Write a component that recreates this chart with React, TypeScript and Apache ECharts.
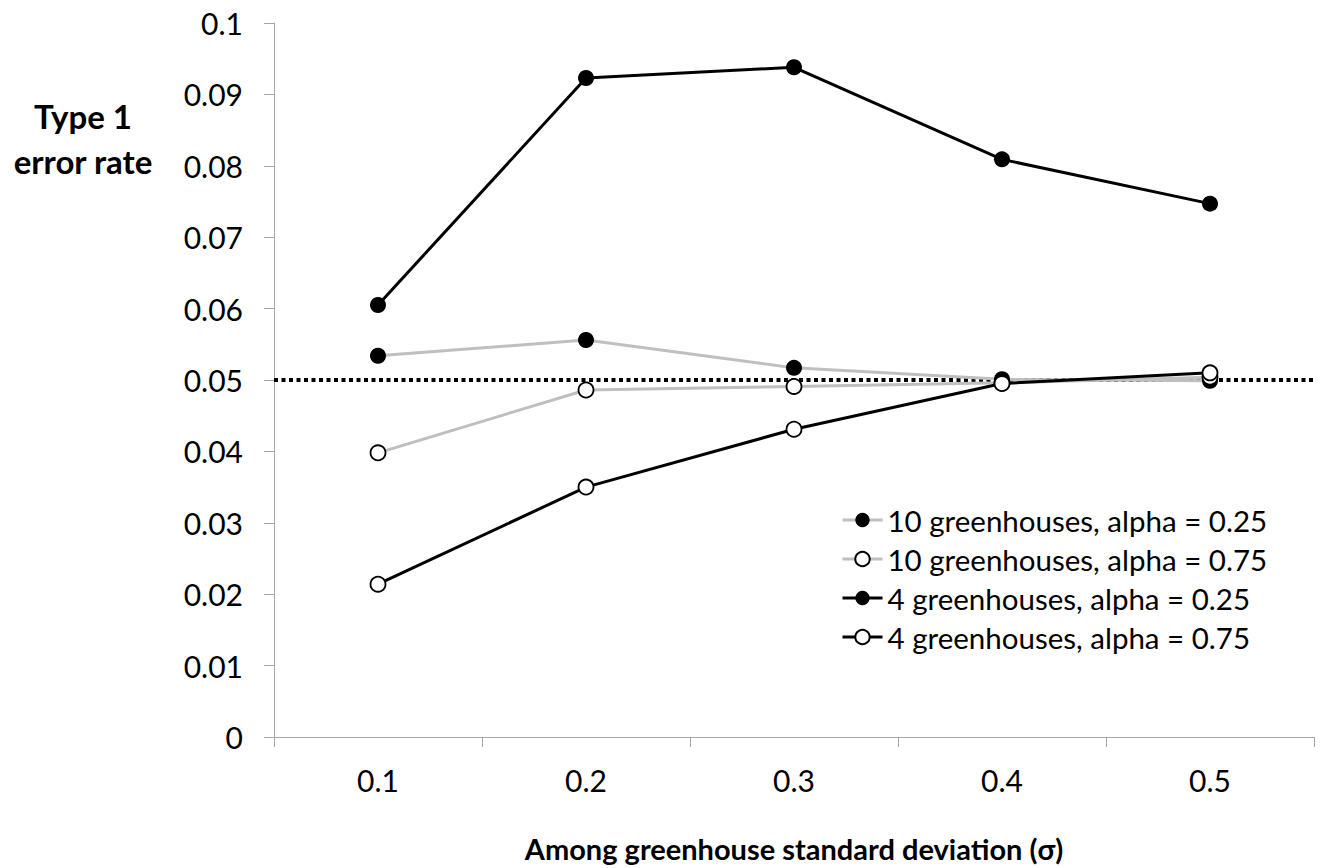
import React, { useEffect, useRef } from "react";
import * as echarts from "echarts";

const categories = ["0.1", "0.2", "0.3", "0.4", "0.5"];
const yTickLabels = ["0", "0.01", "0.02", "0.03", "0.04", "0.05", "0.06", "0.07", "0.08", "0.09", "0.1"];
const gh10Alpha25 = [0.0534, 0.0556, 0.0517, 0.0501, 0.0499];
const gh10Alpha75 = [0.0398, 0.0486, 0.0491, 0.0496, 0.0504];
const gh4Alpha25 = [0.0605, 0.0923, 0.0938, 0.0809, 0.0747];
const gh4Alpha75 = [0.0214, 0.0350, 0.0431, 0.0495, 0.0510];
const nominalRate = 0.05;
const seriesNames = [
  "10 greenhouses, alpha = 0.25",
  "10 greenhouses, alpha = 0.75",
  "4 greenhouses, alpha = 0.25",
  "4 greenhouses, alpha = 0.75",
];

const FONT = "Lato";
const GRAY = "#bfbfbf";

export default function App() {
  const ref = useRef<HTMLDivElement>(null);
  useEffect(() => {
    if (!ref.current) return;
    const chart = echarts.init(ref.current, null, { renderer: "svg" });
    const mk = (name: string, data: number[], lineColor: string, filled: boolean, z: number, extra: any = {}) => ({
      name,
      type: "line",
      data,
      z,
      symbol: "circle",
      symbolSize: filled ? 16 : 15,
      lineStyle: { color: lineColor, width: 3 },
      itemStyle: filled
        ? { color: "#000", borderColor: "#000", borderWidth: 0 }
        : { color: "#fff", borderColor: "#000", borderWidth: 1.8 },
      emphasis: { disabled: true },
      ...extra,
    });
    const legendColors = [GRAY, GRAY, "#000", "#000"];
    chart.setOption({
      animation: false,
      textStyle: { fontFamily: FONT },
      grid: { left: 274, right: 14, top: 23, bottom: 128, containLabel: false },
      legend: {
        orient: "vertical",
        left: 836,
        top: 500,
        itemWidth: 40,
        itemHeight: 18,
        itemGap: 9,
        textStyle: { fontFamily: FONT, fontSize: 29.5, color: "#000", lineHeight: 30 },
        data: seriesNames.map((n, i) => ({
          name: n,
          lineStyle: { color: legendColors[i], width: 3 },
        })),
      },
      xAxis: {
        type: "category",
        data: categories,
        boundaryGap: true,
        name: "Among greenhouse standard deviation (σ)",
        nameLocation: "middle",
        nameGap: 97,
        nameTextStyle: { fontFamily: FONT, fontSize: 29, fontWeight: "bold", color: "#000" },
        axisLine: { lineStyle: { color: "#a6a6a6", width: 1 } },
        axisTick: { show: true, length: 10, interval: 0, lineStyle: { color: "#a6a6a6" } },
        axisLabel: { fontFamily: FONT, fontSize: 30, color: "#000", margin: 28 },
        splitLine: { show: false },
      },
      yAxis: {
        type: "value",
        min: 0,
        max: 0.1,
        interval: 0.01,
        axisLine: { show: true, lineStyle: { color: "#a6a6a6", width: 1 } },
        axisTick: { show: true, length: 10, lineStyle: { color: "#a6a6a6" } },
        axisLabel: {
          fontFamily: FONT,
          fontSize: 30,
          color: "#000",
          margin: 31,
          formatter: (v: number) => yTickLabels[Math.round(v / 0.01)] ?? "",
        },
        splitLine: { show: false },
      },
      graphic: [
        {
          type: "text",
          x: 83,
          y: 93,
          style: {
            text: "Type 1\nerror rate",
            fontFamily: FONT,
            fontSize: 33,
            fontWeight: "bold",
            fill: "#000",
            align: "center",
            verticalAlign: "top",
            lineHeight: 45,
          },
        },
      ],
      series: [
        mk(seriesNames[0], gh10Alpha25, GRAY, true, 2, {
          markLine: {
            silent: true,
            symbol: "none",
            z: 1,
            label: { show: false },
            lineStyle: { color: "#000", width: 4, type: [4, 3.5] },
            data: [{ yAxis: nominalRate }],
          },
        }),
        mk(seriesNames[1], gh10Alpha75, GRAY, false, 3),
        mk(seriesNames[2], gh4Alpha25, "#000", true, 4),
        mk(seriesNames[3], gh4Alpha75, "#000", false, 5),
      ],
    });
    return () => chart.dispose();
  }, []);
  return (
    <div
      ref={ref}
      style={{ position: "absolute", left: 0, top: 0, width: 1328, height: 868, background: "#fff" }}
    />
  );
}
